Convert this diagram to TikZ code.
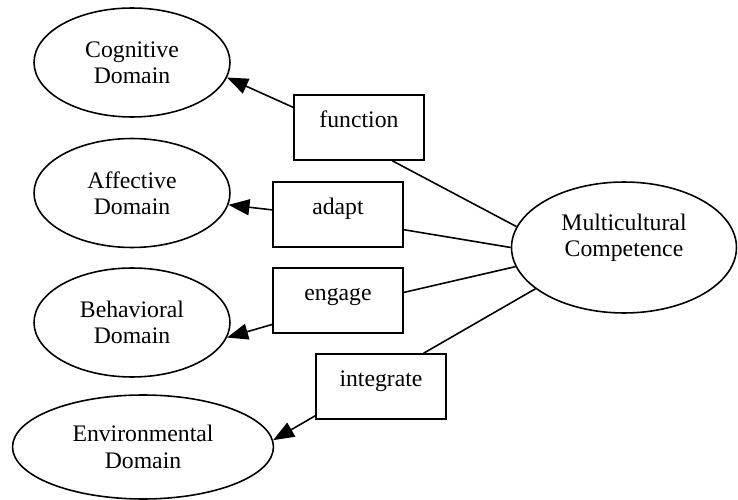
\documentclass[tikz,border=0pt]{standalone}
\usepackage{fontspec}
\setmainfont{Liberation Serif}
\usetikzlibrary{shapes.geometric,arrows.meta}

\begin{document}
\begin{tikzpicture}[x=0.02cm, y=-0.02cm, line width=0.9pt,
		dom/.style={ellipse, draw, inner sep=0pt, align=center, minimum width=3.92cm, minimum height=2.18cm},
		verb/.style={rectangle, draw, inner sep=0pt, minimum width=2.6cm, minimum height=1.3cm, text height=0.3cm, text depth=0.3cm},
		arr/.style={-{Triangle[length=0.42cm, width=0.32cm]}}]
		\fontsize{13.5}{15}\selectfont
		\useasboundingbox (0,0) rectangle (738,500);
		
		%domains
		\node (cognitive) at (132, 62.5) [dom]{Cognitive\\Domain};
		\node (affective) at (132, 193) [dom]{Affective\\Domain};
		\node (behavioral) at (132, 322.5) [dom]{Behavioral\\Domain};
		\node (environmental) at (143, 447) [dom, minimum width=5.22cm, minimum height=2.08cm]{Environmental\\Domain};
		
		%competence
		\node (mc) at (624, 247.5) [dom, minimum width=4.5cm, minimum height=2.62cm, text depth=0.48cm]{Multicultural\\Competence};
		
		%verbs
		\node (function) at (359, 127.5) [verb]{function};
		\node (adapt) at (338, 214.5) [verb]{adapt};
		\node (engage) at (338, 300.5) [verb]{engage};
		\node (integrate) at (381, 386.5) [verb]{integrate};
		
		\draw (mc.169) -- (function.-45);
		\draw (mc.180) -- (adapt.-13);
		\draw (mc.190) -- (engage.7);
		\draw (mc.205) -- (integrate.38);
		
		\draw[arr] (function.163) -- (cognitive.-9);
		\draw[arr] (adapt.176) -- (affective.-7);
		\draw[arr] (engage.200) -- (behavioral.-9);
		\draw[arr] (integrate.204) -- (environmental.3);
	\end{tikzpicture}
\end{document}
